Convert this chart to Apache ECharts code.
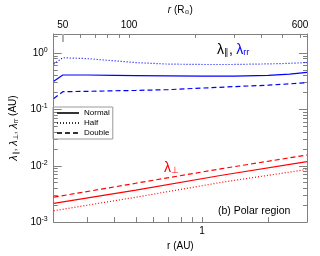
<!DOCTYPE html>
<html><head><meta charset="utf-8">
<script src="https://cdn.jsdelivr.net/npm/echarts@6/dist/echarts.min.js"></script>
<style>html,body{margin:0;padding:0;background:#fff}#c{width:320px;height:256px}</style>
</head><body><div id="c"></div>
<script>
// ---- data (r in AU) ----
const rBlue = [0.2115, 0.2326, 0.3, 0.4, 0.5, 0.7, 1.0, 1.4, 2.0, 2.5, 3.0];
const rrNormal = [0.316, 0.41, 0.41, 0.405, 0.40, 0.395, 0.39, 0.39, 0.405, 0.425, 0.455];
const rrHalf   = [0.64, 0.83, 0.80, 0.73, 0.68, 0.64, 0.63, 0.63, 0.645, 0.66, 0.68];
const rrDouble = [0.157, 0.207, 0.21, 0.215, 0.218, 0.225, 0.24, 0.255, 0.27, 0.285, 0.30];
const rRed = [0.2115, 0.5, 1.23, 3.0];
const perpNormal = [0.00215, 0.0037, 0.0068, 0.0119];
const perpHalf   = [0.00159, 0.00277, 0.0051, 0.0086];
const perpDouble = [0.00277, 0.0049, 0.0089, 0.0155];
// ---- axes ----
const xMin = 0.2115, xMax = 3.0, auToRsun = 215;
const xTicks = [0.3, 0.4, 0.5, 0.6, 0.7, 0.8, 0.9, 1, 2];
const xLabels = [1];
const topTicks = [60, 70, 80, 90, 100, 200, 300, 400, 500, 600];
const topLabels = [50, 100, 600];
const topMark = [50];
const yMin = 0.001, yMax = 2.2;
const yMajor = [0.001, 0.01, 0.1, 1];
const yMinor = [0.002,0.003,0.004,0.005,0.006,0.007,0.008,0.009,
                0.02,0.03,0.04,0.05,0.06,0.07,0.08,0.09,
                0.2,0.3,0.4,0.5,0.6,0.7,0.8,0.9,2];
const legendNames = ['Normal', 'Half', 'Double'];

const FONT = 'Liberation Sans';
const AX = '#808080';
const zip = (xs, ys) => xs.map((x, i) => [x, ys[i]]);

function yAxisDef(pos, ticks, len, showLine, labels) {
  return {
    type: 'log', min: yMin, max: yMax, position: pos,
    axisLine: { show: showLine, lineStyle: { color: AX, width: 1 } },
    axisTick: { show: true, inside: true, length: len, customValues: ticks, lineStyle: { color: AX } },
    axisLabel: labels ? {
      show: true, customValues: labels, margin: 6, fontFamily: FONT, fontSize: 10, color: '#000',
      formatter: v => '10{s|' + Math.round(Math.log10(v)) + '}',
      rich: { s: { fontSize: 7, fontFamily: FONT, color: '#000', padding: [0, 0, 6, 0] } }
    } : { show: false },
    splitLine: { show: false }
  };
}

const dotted = [1, 2], dashed = [5, 3];
function line(name, xs, ys, color, type) {
  return {
    type: 'line', name: name, data: zip(xs, ys), symbol: 'none', showSymbol: false,
    xAxisIndex: 0, yAxisIndex: 0, silent: true, animation: false,
    lineStyle: { color: color, width: 1.2, type: type }
  };
}
function legendSeries(name, type) {
  return { type: 'line', name: name, data: [], xAxisIndex: 0, yAxisIndex: 0, symbol: 'none',
    legendIcon: 'path://M0,0', lineStyle: { color: '#333', width: 1, type: type }, itemStyle: { color: '#333' } };
}

const option = {
  animation: false,
  grid: { left: 48, right: 13, top: 31, bottom: 31, containLabel: false },
  xAxis: [
    {
      type: 'log', min: xMin, max: xMax, position: 'bottom',
      name: 'r (AU)', nameLocation: 'middle', nameGap: 13,
      nameTextStyle: { fontFamily: FONT, fontSize: 10, color: '#000' },
      axisLine: { show: true, lineStyle: { color: AX } },
      axisTick: { inside: true, length: 5, customValues: xTicks, lineStyle: { color: AX } },
      axisLabel: { customValues: xLabels, margin: 4, fontFamily: FONT, fontSize: 10, color: '#000', formatter: v => String(v) },
      splitLine: { show: false }
    },
    {
      type: 'log', min: xMin * auToRsun, max: xMax * auToRsun, position: 'top',
      name: '{i|r} (R{s|⊙})', nameLocation: 'middle', nameGap: 15,
      nameTextStyle: { fontFamily: FONT, fontSize: 10, color: '#000',
        rich: { i: { fontStyle: 'italic', fontFamily: FONT, fontSize: 10 }, s: { fontSize: 6, fontFamily: 'DejaVu Sans', padding: [4, 0, 0, 0] } } },
      axisLine: { show: true, lineStyle: { color: AX } },
      axisTick: { inside: true, length: 4, customValues: topTicks, lineStyle: { color: AX } },
      axisLabel: { customValues: topLabels, margin: 4, fontFamily: FONT, fontSize: 10, color: '#000', formatter: v => String(Math.round(v)) },
      splitLine: { show: false }
    },
    {
      type: 'log', min: xMin * auToRsun, max: xMax * auToRsun, position: 'top',
      axisLine: { show: false },
      axisTick: { inside: true, length: 8, customValues: topMark, lineStyle: { color: '#b0b0b0', width: 2 } },
      axisLabel: { show: false }, splitLine: { show: false }
    }
  ],
  yAxis: [
    Object.assign(yAxisDef('left', yMajor, 8, true, yMajor), {
      name: '{i|λ}{s|∥}, {i|λ}{s|⊥}, {i|λ}{s|rr} (AU)', nameLocation: 'middle', nameGap: 31, nameRotate: 90,
      nameTextStyle: { fontFamily: FONT, fontSize: 10, color: '#000',
        rich: { i: { fontStyle: 'italic', fontFamily: FONT, fontSize: 11 }, s: { fontSize: 7, fontFamily: FONT, padding: [5, 0, 0, 0] } } }
    }),
    yAxisDef('left', yMinor, 4, false, null),
    yAxisDef('right', yMajor, 8, true, null),
    yAxisDef('right', yMinor, 4, false, null)
  ],
  legend: {
    data: legendNames, orient: 'vertical', left: 53, top: 107,
    itemWidth: 22, itemHeight: 8, itemGap: 2,
    padding: [2, 3, 2, 3], borderColor: '#999', borderWidth: 1,
    itemStyle: { opacity: 0, borderWidth: 0 },
    textStyle: { fontFamily: FONT, fontSize: 8, color: '#000' },
    selectedMode: false
  },
  graphic: [
    { type: 'text', left: 217, top: 43, style: { text: '{k|λ}{ks|∥}{k|,} {b|λ}{bs|rr}', fontFamily: FONT,
      rich: { k: { fontSize: 14, fill: '#000', fontFamily: FONT }, ks: { fontSize: 9, fill: '#000', padding: [6, 0, 0, 0] },
              b: { fontSize: 14, fill: '#0000ff', fontFamily: FONT }, bs: { fontSize: 9, fill: '#0000ff', padding: [6, 0, 0, 0] } } } },
    { type: 'text', left: 164, top: 161, style: { text: '{r|λ}{rs|⊥}', fontFamily: FONT,
      rich: { r: { fontSize: 14, fill: '#ff0000', fontFamily: FONT }, rs: { fontSize: 9, fill: '#ff0000', padding: [6, 0, 0, 0] } } } },
    { type: 'text', left: 218, top: 206, style: { text: '(b) Polar region', fontFamily: FONT, fontSize: 10.5, fill: '#000' } }
  ],
  series: [
    legendSeries('Normal', 'solid'),
    legendSeries('Half', dotted),
    legendSeries('Double', dashed),
    line('rrNormal', rBlue, rrNormal, '#0000ff', 'solid'),
    line('rrHalf', rBlue, rrHalf, '#0000ff', dotted),
    line('rrDouble', rBlue, rrDouble, '#0000ff', dashed),
    line('perpNormal', rRed, perpNormal, '#ff0000', 'solid'),
    line('perpHalf', rRed, perpHalf, '#ff0000', dotted),
    line('perpDouble', rRed, perpDouble, '#ff0000', dashed)
  ]
};
const chart = echarts.init(document.getElementById('c'), null, { renderer: 'canvas' });
chart.setOption(option);
</script></body></html>
